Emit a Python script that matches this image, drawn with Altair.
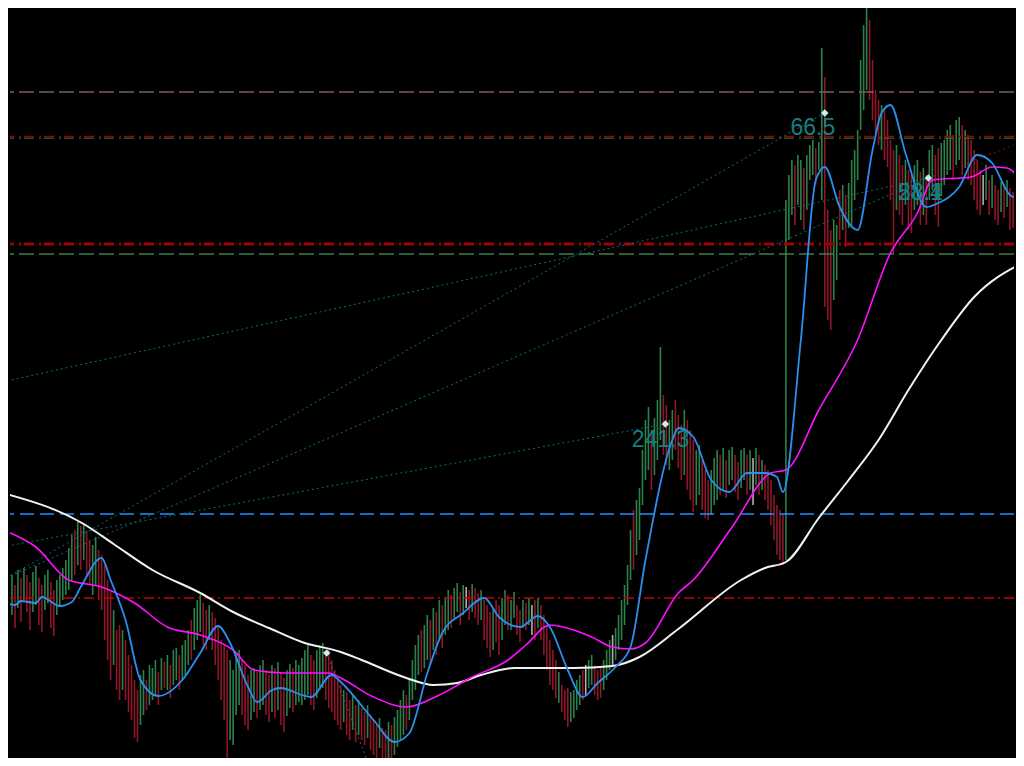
import altair as alt
import pandas as pd

# ---------------- candles (bar index i, price units) ----------------
highs = [
    410,415,420,425,415,430,422,432,425,418,
    428,434,422,415,425,430,418,410,420,425,
    432,440,452,465,470,478,474,476,468,460,
    455,463,450,445,435,420,410,390,370,375,
    370,360,345,335,320,310,325,330,320,335,
    332,340,328,342,338,345,335,350,352,345,
    355,360,370,380,392,400,405,397,390,395,
    388,382,375,360,355,350,340,330,345,350,
    340,335,325,330,332,328,335,340,330,325,
    335,332,338,328,322,330,336,332,340,335,
    342,350,355,345,340,350,355,357,345,350,
    340,330,322,315,310,308,300,305,295,300,
    292,288,295,285,280,275,282,272,270,278,
    275,283,290,300,310,305,320,340,355,365,
    370,375,385,380,392,388,400,395,402,410,
    405,412,417,408,415,413,410,416,412,407,
    410,400,395,388,392,400,395,402,410,405,
    400,408,395,390,400,397,402,395,400,402,
    395,385,375,360,350,340,328,315,310,312,
    308,310,320,325,330,335,340,345,335,330,
    332,340,350,360,365,372,385,400,415,435,
    470,490,500,512,550,580,593,570,582,600,
    653,605,595,580,590,600,585,575,590,580,
    570,560,550,555,540,530,520,530,542,550,
    545,552,540,550,553,545,538,550,552,545,
    550,542,552,545,540,535,530,520,505,495,
    490,485,800,825,840,835,845,840,832,845,
    855,860,852,858,952,923,790,770,780,775,
    810,815,805,817,840,850,870,940,975,1000,
    980,940,910,900,895,890,880,860,850,855,
    845,835,840,830,825,835,840,828,832,825,
    850,855,845,852,857,860,870,875,865,880,
    883,875,870,865,860,850,840,830,825,835,
    820,825,815,810,818,815,820,812,808,815,810,
]
lows = [
    363,380,388,385,372,392,378,400,388,370,
    388,395,375,368,390,397,372,364,385,393,
    400,405,410,420,425,435,430,440,425,415,
    405,415,400,390,360,340,320,335,310,300,
    310,300,288,280,262,258,275,285,290,295,
    300,305,295,310,312,310,302,315,320,310,
    320,325,335,340,350,360,368,355,350,360,
    350,335,320,300,280,234,260,255,285,295,
    285,275,270,280,288,282,290,295,285,278,
    288,282,290,275,268,284,292,288,295,298,
    295,300,305,295,290,302,310,312,300,292,
    288,280,275,270,278,265,260,270,258,265,
    260,255,262,250,245,240,252,234,234,240,
    234,245,253,260,265,270,280,300,310,325,
    328,332,340,335,350,345,360,352,365,370,
    372,380,388,375,385,392,380,388,382,375,
    380,360,352,343,350,358,345,360,375,370,
    370,382,365,358,372,370,375,365,360,372,
    360,345,330,315,310,302,297,288,280,273,
    278,282,290,295,300,305,312,315,305,300,
    302,310,320,330,335,340,350,360,375,395,
    420,430,445,460,495,520,530,510,525,540,
    560,545,535,530,540,550,532,520,525,510,
    500,488,495,505,490,482,480,485,495,500,
    505,510,502,515,520,508,500,512,520,505,
    510,495,515,505,510,500,490,475,460,445,
    440,435,440,760,785,775,795,780,770,790,
    820,825,815,830,800,693,680,670,700,720,
    760,770,753,772,775,800,820,870,890,910,
    900,880,867,855,850,840,833,800,747,790,
    785,775,795,770,767,790,795,775,785,775,
    800,810,785,773,805,815,825,830,820,835,
    840,825,832,820,815,800,790,785,795,800,
    785,792,780,775,788,782,793,770,772,785,775,
]
dirs = "".join([
    "RRGGRGRGRR", "GGRRGGRRGG", "GGGGRGRGRR", "GGRRRRRGRR", "GRRRRRGGRG",
    "GGRGRGRGGR", "GGGRGGGRRG", "RRRRRRGGGG", "RRRGGRGGRR", "GRGRRGGRGG",
    "GGGRRGGGRR", "RRRRGRRGRG", "RRGRRRGRRG", "RGGGGRGGGG", "RGGRGRGRGG",
    "RGGRGWRGRR", "GRRRGRRGGR", "GGRRGRGWRG", "RRRRRRGRRR", "GGGGRWGGRR",
    "RGGGWGGGGG", "GRGGGGGRGG", "GRRGGRRRGR", "RRGGRRRGGG", "RGRGGRRGGR",
    "GWGRGRRRRR", "RRGGGRGGRG", "GGRGGRRRGG", "RGRGGGGGGG", "RRRRGRRRRG",
    "RRGRRGGRGR", "GGRRGGGGRG", "GRGRRRRRWG", "RGRRGRGRRGR",
])

# ---------------- moving averages ----------------
white_bar = [0, 27, 37, 50, 66, 77, 89, 100, 113, 120, 135, 144, 152, 160, 171, 182, 191,
             204, 213, 226, 247, 255, 262, 273, 283, 293, 303, 314, 325, 341]
white_val = [507, 476, 456, 430, 407, 388, 372, 358, 348, 340, 322, 315, 317, 325, 332, 332, 332,
             334, 343, 371, 420, 432, 438, 482, 520, 560, 610, 660, 703, 737]

mag_bar = [0, 11, 22, 33, 44, 55, 66, 77, 84, 94, 109, 113, 124, 135, 146, 157, 169, 175, 183,
           191, 197, 204, 210, 215, 226, 231, 244, 257, 262, 273, 286, 297, 306, 311, 324, 331, 336, 341]
mag_val = [470, 453, 420, 413, 397, 373, 365, 350, 330, 327, 327, 322, 303, 293, 305, 323, 340, 355, 375,
           370, 363, 353, 351, 357, 407, 420, 473, 527, 530, 590, 660, 747, 787, 820, 823, 833, 832, 818]

blue_bar = [0, 4, 6, 11, 13, 19, 23, 26, 33, 36, 41, 46, 52, 60, 66, 72, 76, 82, 85, 90, 93, 100,
            103, 110, 113, 124, 131, 136, 142, 147, 154, 161, 166, 173, 179, 183, 189, 194, 199, 205,
            210, 215, 224, 226, 231, 237, 243, 249, 255, 259, 261, 267, 272, 275, 280, 286, 291, 294,
            297, 302, 309, 313, 320, 326, 331, 337, 341]
blue_val = [398, 395, 399, 397, 403, 394, 398, 413, 442, 420, 380, 320, 304, 320, 347, 374, 357, 313,
            298, 310, 312, 305, 303, 325, 318, 280, 258, 267, 327, 367, 387, 402, 383, 373, 384, 373,
            330, 303, 317, 333, 353, 440, 560, 572, 563, 520, 508, 527, 527, 523, 508, 660, 820, 833,
            793, 770, 850, 887, 895, 847, 793, 797, 813, 845, 837, 805, 800]

# ---------------- horizontal levels ----------------
level_price = [908, 863.5, 861.8, 756, 746, 486, 402]
level_color = ["#7c5c62", "#a00000", "#2f7a35", "#a00000", "#3f7f45", "#1e90ff", "#c80000"]
level_dash = [[15, 5], [10, 3, 2, 5], [10, 3, 2, 5], [10, 3, 2, 5], [15, 5], [14, 6], [10, 4, 2, 4]]
level_width = [1.5, 1.6, 1.0, 3.0, 1.5, 1.3, 1.4]

# ---------------- trend lines ----------------
trend_x1 = [-0.33, 1, -0.33, 1, 108.33, 309.67]
trend_y1 = [618, 422, 453, 422, 347, 822]
trend_x2 = [309.67, 275, 221.67, 309.67, 123, 341]
trend_y2 = [822, 887, 576, 822, 230, 858]
trend_color = ["#0f6f6f", "#0f6f6f", "#0f6f6f", "#0f6f6f", "#0f6f6f", "#8b1010"]

marker_bar = [1, 108.33, 221.67, 275, 309.67]
marker_val = [422, 347, 576, 887, 822]

label_text = ["66.5", "241.3", "58.4", "28.1"]
label_bar = [271, 220, 307, 307]
label_val = [872, 560, 807, 807]

# ---------------- build ----------------
n = len(highs)
candles = pd.DataFrame({"bar": list(range(n)), "high": highs, "low": lows, "dir": list(dirs)})

xs = alt.Scale(domain=[2.333, 338.333], nice=False, zero=False)
ys = alt.Scale(domain=[242, 992], nice=False, zero=False)
X = lambda f: alt.X(f, type="quantitative", scale=xs, axis=None)
Y = lambda f: alt.Y(f, type="quantitative", scale=ys, axis=None)

layers = []

layers.append(
    alt.Chart(candles).mark_rule(strokeWidth=1.6, clip=True).encode(
        x=X("bar"), y=Y("low"), y2="high",
        color=alt.Color("dir:N", scale=alt.Scale(domain=["G", "R", "W"],
                                                  range=["#2e8049", "#8e1628", "#b0b0b0"]), legend=None),
    )
)

for p, c, d, w in zip(level_price, level_color, level_dash, level_width):
    layers.append(
        alt.Chart(pd.DataFrame({"p": [p]})).mark_rule(color=c, strokeDash=d, strokeWidth=w).encode(y=Y("p"))
    )

trends = pd.DataFrame({"x1": trend_x1, "y1": trend_y1, "x2": trend_x2, "y2": trend_y2, "c": trend_color})
layers.append(
    alt.Chart(trends).mark_rule(strokeDash=[2, 3], strokeWidth=1, clip=True).encode(
        x=X("x1"), y=Y("y1"), x2="x2", y2="y2", color=alt.Color("c:N", scale=None)
    )
)

for bars, vals, col, w in [(white_bar, white_val, "#f2f2f2", 2.0),
                           (mag_bar, mag_val, "#ff10ff", 1.6),
                           (blue_bar, blue_val, "#2a8ff0", 1.8)]:
    layers.append(
        alt.Chart(pd.DataFrame({"bar": bars, "v": vals})).mark_line(
            color=col, strokeWidth=w, interpolate="monotone", clip=True
        ).encode(x=X("bar"), y=Y("v"))
    )

layers.append(
    alt.Chart(pd.DataFrame({"bar": marker_bar, "v": marker_val})).mark_point(
        shape="diamond", filled=True, color="#cdeeee", size=55, opacity=1, clip=True
    ).encode(x=X("bar"), y=Y("v"))
)

layers.append(
    alt.Chart(pd.DataFrame({"bar": label_bar, "v": label_val, "t": label_text})).mark_text(
        font="Liberation Sans", fontSize=23, color="#128080", align="center", baseline="middle"
    ).encode(x=X("bar"), y=Y("v"), text="t:N")
)

chart = alt.layer(*layers).properties(
    width=1008, height=750, background="#000000", padding=0,
    autosize=alt.AutoSizeParams(type="fit", contains="padding"),
).configure_view(stroke=None, fill="#000000")

chart.save("out.html", embed_options={"renderer": "svg", "actions": False})
